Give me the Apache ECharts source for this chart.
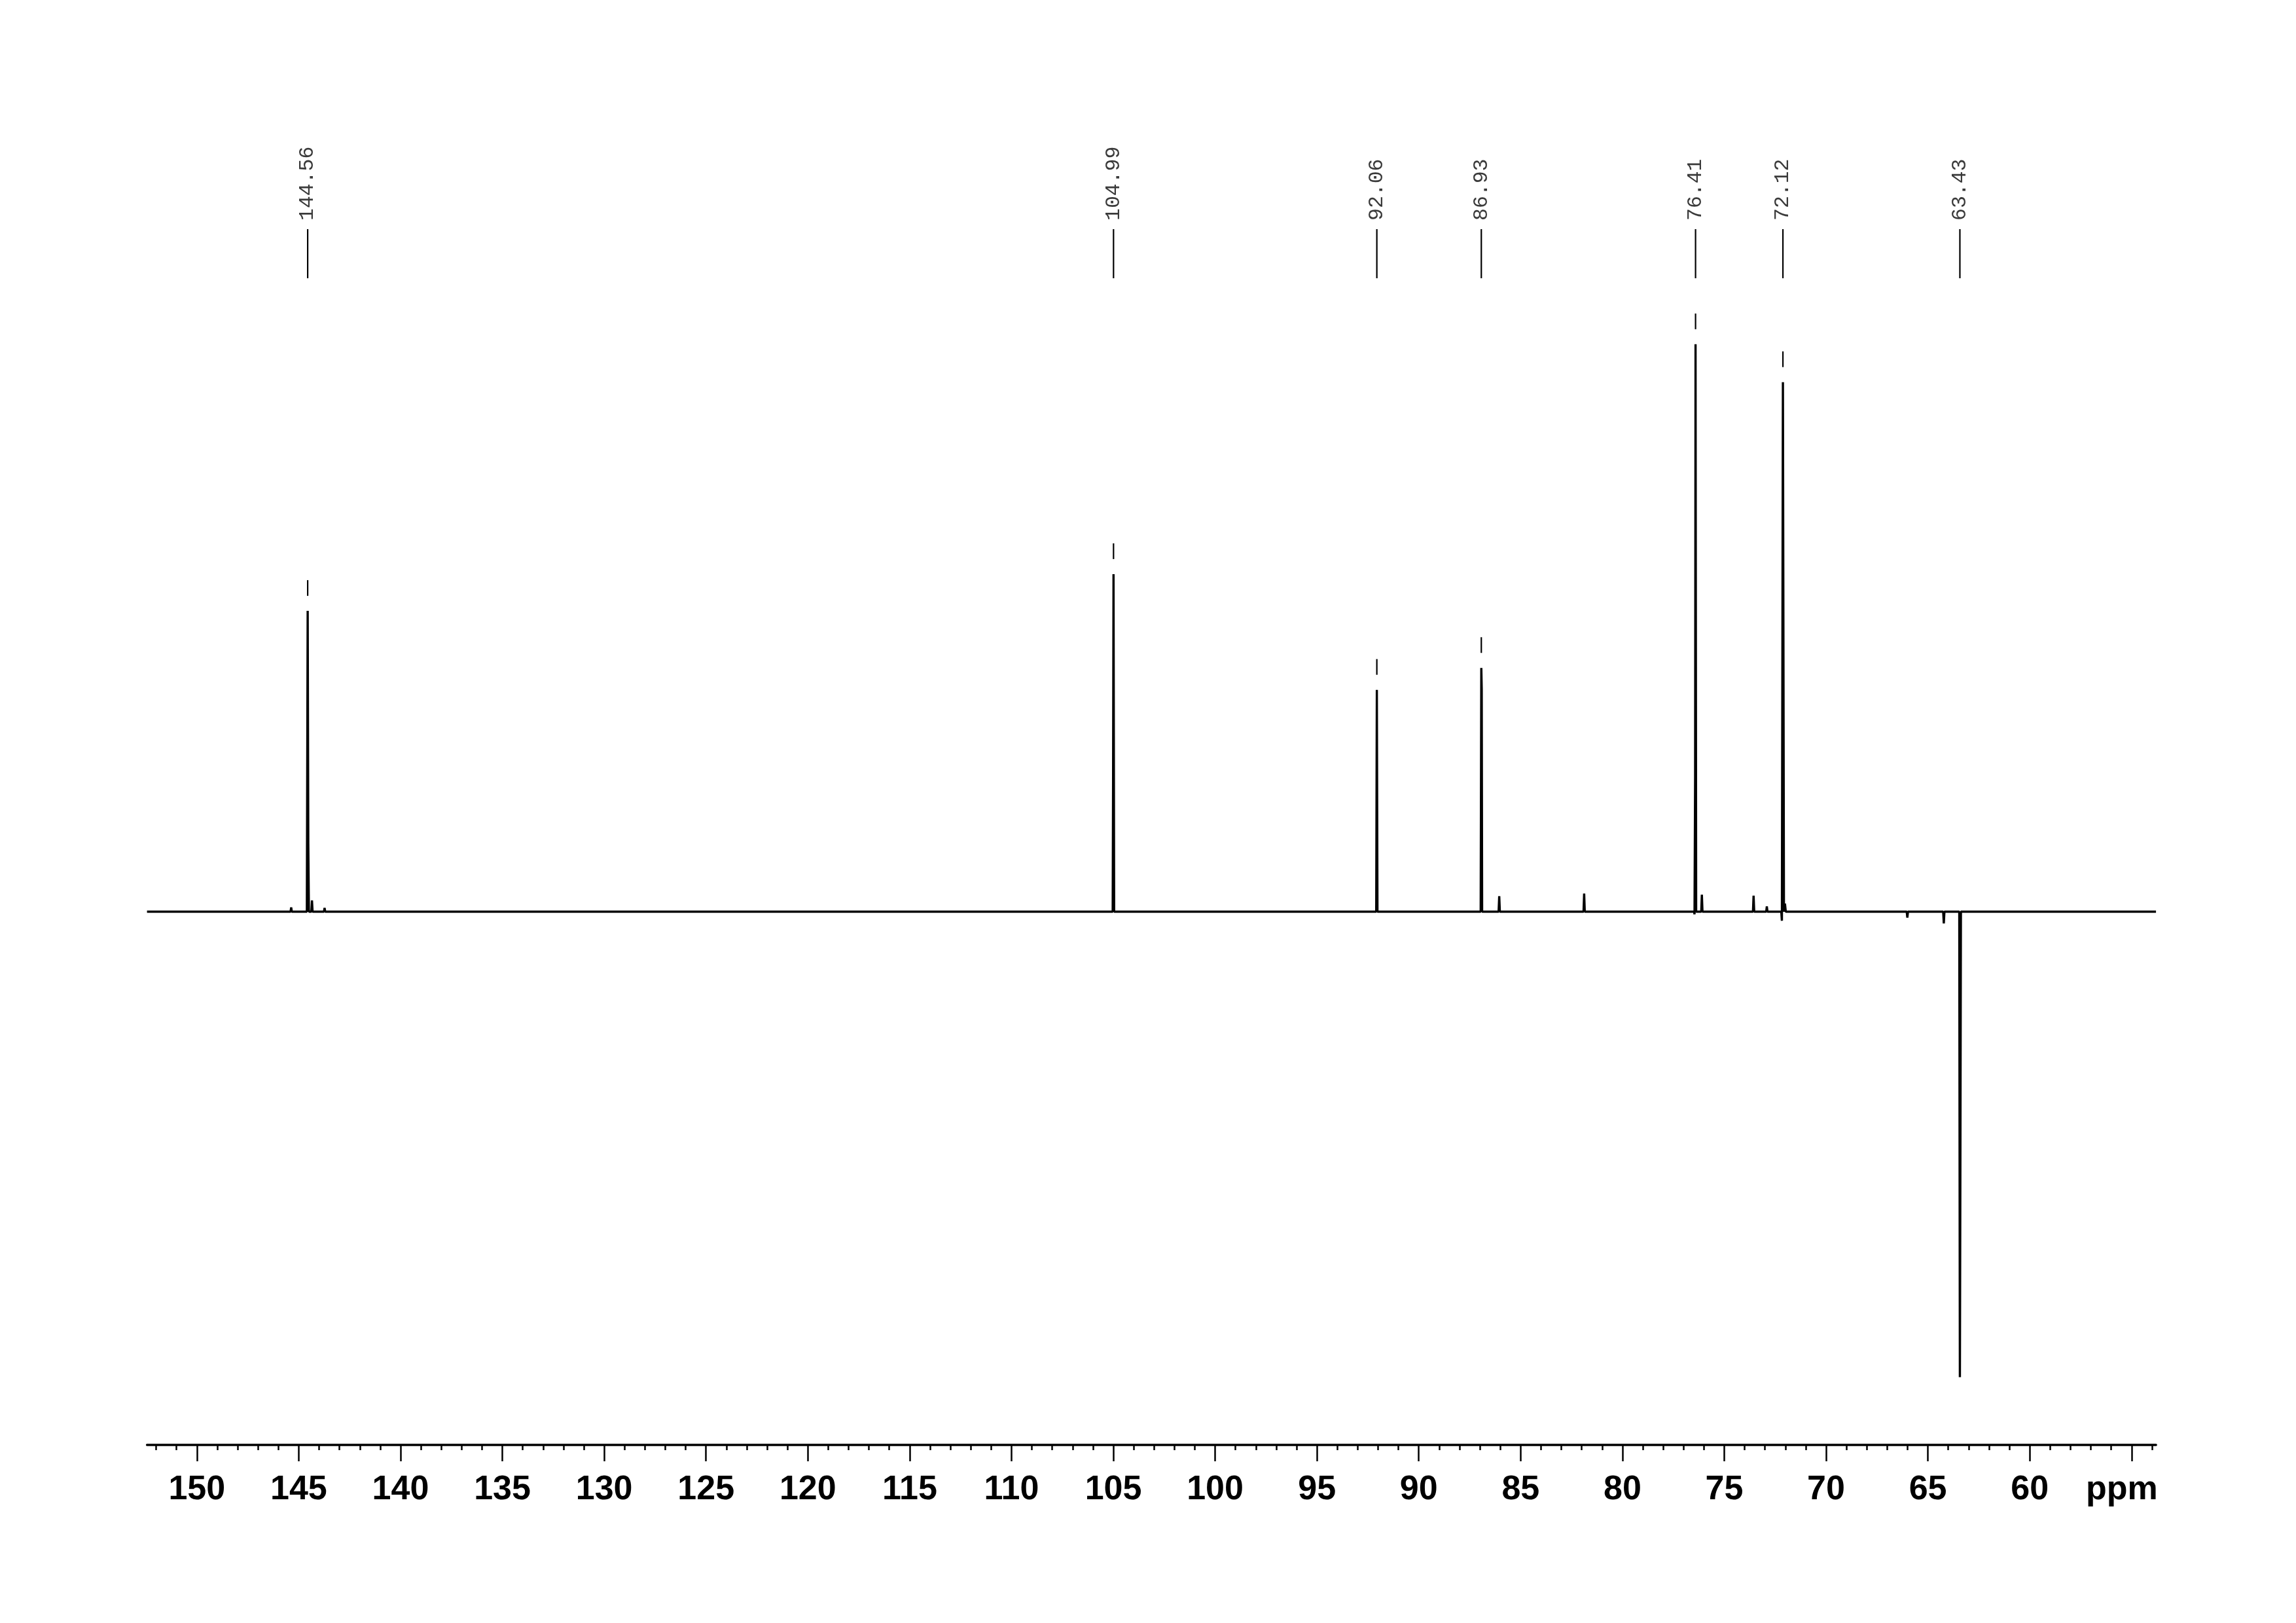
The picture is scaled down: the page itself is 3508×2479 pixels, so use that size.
<!DOCTYPE html>
<html>
<head>
<meta charset="utf-8">
<script src="https://cdn.jsdelivr.net/npm/echarts@6/dist/echarts.min.js"></script>
<style>
  html, body { margin: 0; padding: 0; background: #ffffff; }
  #chart { width: 3508px; height: 2479px; }
</style>
</head>
<body>
<div id="chart"></div>
<script>
// ---------------- DATA ----------------
// Spectrum trace: chemical shift (ppm) and intensity (arbitrary units)
const spectrumPpm = [
  152.45,
  145.40, 145.37, 145.34,
  144.60, 144.56, 144.53, 144.50,
  144.38, 144.35, 144.32,
  143.76, 143.73, 143.70,
  105.03, 105.01, 104.99, 104.96,
  92.09, 92.06, 92.03,
  86.96, 86.93, 86.91, 86.89,
  86.08, 86.05, 86.02,
  81.91, 81.88, 81.85,
  76.48, 76.46, 76.43, 76.41, 76.38,
  76.13, 76.10, 76.07,
  73.59, 73.56, 73.53,
  72.94, 72.91, 72.88,
  72.20, 72.17, 72.12, 72.10, 72.07, 72.02, 71.98,
  66.04, 66.01, 65.98,
  64.25, 64.22, 64.19,
  63.46, 63.43, 63.41, 63.38,
  53.80
];
const spectrumIntensity = [
  0,
  0, 0.8, 0,
  0, 56.4, 12.7, 0,
  0, 2.1, 0,
  0, 0.7, 0,
  0, 25.4, 63.3, 0,
  0, 41.6, 0,
  0, 45.7, 41.8, 0,
  0, 2.9, 0,
  0, 3.4, 0,
  0, -0.5, 25.4, 106.4, 0,
  0, 3.2, 0,
  0, 3.0, 0,
  0, 1.0, 0,
  0, -1.7, 99.3, 60.6, 0, 1.5, 0,
  0, -1.1, 0,
  0, -2.2, 0,
  0, -87.3, -54.0, 0,
  0
];
// Picked peaks and their labels
const peakPpm = [144.56, 104.99, 92.06, 86.93, 76.41, 72.12, 63.43];
const peakLabels = ['144.56', '104.99', '92.06', '86.93', '76.41', '72.12', '63.43'];
// Axis tick values (ppm)
const majorTicks = [150, 145, 140, 135, 130, 125, 120, 115, 110, 105, 100, 95, 90, 85, 80, 75, 70, 65, 60, 55];
const minorTicks = [152, 151, 150, 149, 148, 147, 146, 145, 144, 143, 142, 141, 140, 139, 138, 137, 136, 135, 134, 133,
  132, 131, 130, 129, 128, 127, 126, 125, 124, 123, 122, 121, 120, 119, 118, 117, 116, 115, 114, 113, 112, 111, 110,
  109, 108, 107, 106, 105, 104, 103, 102, 101, 100, 99, 98, 97, 96, 95, 94, 93, 92, 91, 90, 89, 88, 87, 86, 85, 84,
  83, 82, 81, 80, 79, 78, 77, 76, 75, 74, 73, 72, 71, 70, 69, 68, 67, 66, 65, 64, 63, 62, 61, 60, 59, 58, 57, 56, 55, 54];
const axisUnitLabel = 'ppm';
const axisUnitTick = 55;

// ---------------- LAYOUT / STYLE ----------------
const X_MIN = 53.8, X_MAX = 152.45;
const Y_MIN = -100, Y_MAX = 140;
const LABEL_TEXT_BOTTOM = 337;   // px, where the rotated label text starts
const LABEL_TICK_TOP = 350;      // px
const LABEL_TICK_BOTTOM = 425;   // px
const DASH_GAP = 23;             // px above apex
const DASH_LEN = 24;             // px

const spectrumData = spectrumPpm.map((p, i) => [p, spectrumIntensity[i]]);
function apexOf(ppm) {
  const i = spectrumPpm.indexOf(ppm);
  return i >= 0 ? spectrumIntensity[i] : 0;
}

const chart = echarts.init(document.getElementById('chart'), null, { renderer: 'canvas' });

const axisFont = "'Liberation Sans Narrow', 'Arial Narrow', 'Liberation Sans', Arial, sans-serif";

const option = {
  backgroundColor: '#ffffff',
  animation: false,
  grid: { left: 224.6, right: 213.9, top: 252.2, bottom: 272, containLabel: false },
  xAxis: [
    {
      type: 'value', min: X_MIN, max: X_MAX, inverse: true, position: 'bottom',
      axisLine: { show: true, onZero: false, lineStyle: { color: '#000', width: 3.5 } },
      axisTick: { show: true, customValues: majorTicks, length: 25, lineStyle: { color: '#000', width: 2.5 } },
      axisLabel: {
        show: true, customValues: majorTicks, margin: 43,
        color: '#000', fontFamily: axisFont, fontWeight: 'bold', fontSize: 52,
        formatter: function (v) { return v === axisUnitTick ? '{u|' + axisUnitLabel + '}' : String(v); },
        rich: { u: { color: '#000', fontFamily: axisFont, fontWeight: 'bold', fontSize: 52, padding: [0, 30, 0, 0] } }
      },
      splitLine: { show: false }
    },
    {
      type: 'value', min: X_MIN, max: X_MAX, inverse: true, position: 'bottom', gridIndex: 0,
      axisLine: { show: false, onZero: false },
      axisTick: { show: true, customValues: minorTicks, length: 8, lineStyle: { color: '#000', width: 2.5 } },
      axisLabel: { show: false },
      splitLine: { show: false }
    }
  ],
  yAxis: {
    type: 'value', min: Y_MIN, max: Y_MAX, show: false,
    axisLine: { show: false }, splitLine: { show: false }
  },
  series: [
    {
      type: 'line', xAxisIndex: 0, yAxisIndex: 0,
      data: spectrumData, showSymbol: false, symbol: 'none',
      lineStyle: { color: '#000', width: 3.4 }, sampling: null, clip: false, z: 3
    },
    {
      type: 'custom', xAxisIndex: 0, yAxisIndex: 0, clip: false, z: 4,
      data: peakPpm.map((p, i) => [p, i]),
      renderItem: function (params, api) {
        const ppm = api.value(0);
        const idx = api.value(1);
        const x = api.coord([ppm, 0])[0];
        const children = [
          { type: 'line', shape: { x1: x, y1: LABEL_TICK_TOP, x2: x, y2: LABEL_TICK_BOTTOM },
            style: { stroke: '#000', lineWidth: 2.2 } },
          { type: 'text', x: x, y: LABEL_TEXT_BOTTOM, rotation: Math.PI / 2,
            style: { text: peakLabels[idx], fontFamily: "'Liberation Mono', 'DejaVu Sans Mono', monospace",
                     fontSize: 31.5, fill: '#3a3a3a', align: 'left', verticalAlign: 'middle' } }
        ];
        const apex = apexOf(ppm);
        if (apex > 0) {
          const ay = api.coord([ppm, apex])[1];
          children.push({ type: 'line',
            shape: { x1: x, y1: ay - DASH_GAP - DASH_LEN, x2: x, y2: ay - DASH_GAP },
            style: { stroke: '#000', lineWidth: 2.2 } });
        }
        return { type: 'group', children: children };
      }
    }
  ]
};
chart.setOption(option);
</script>
</body>
</html>
